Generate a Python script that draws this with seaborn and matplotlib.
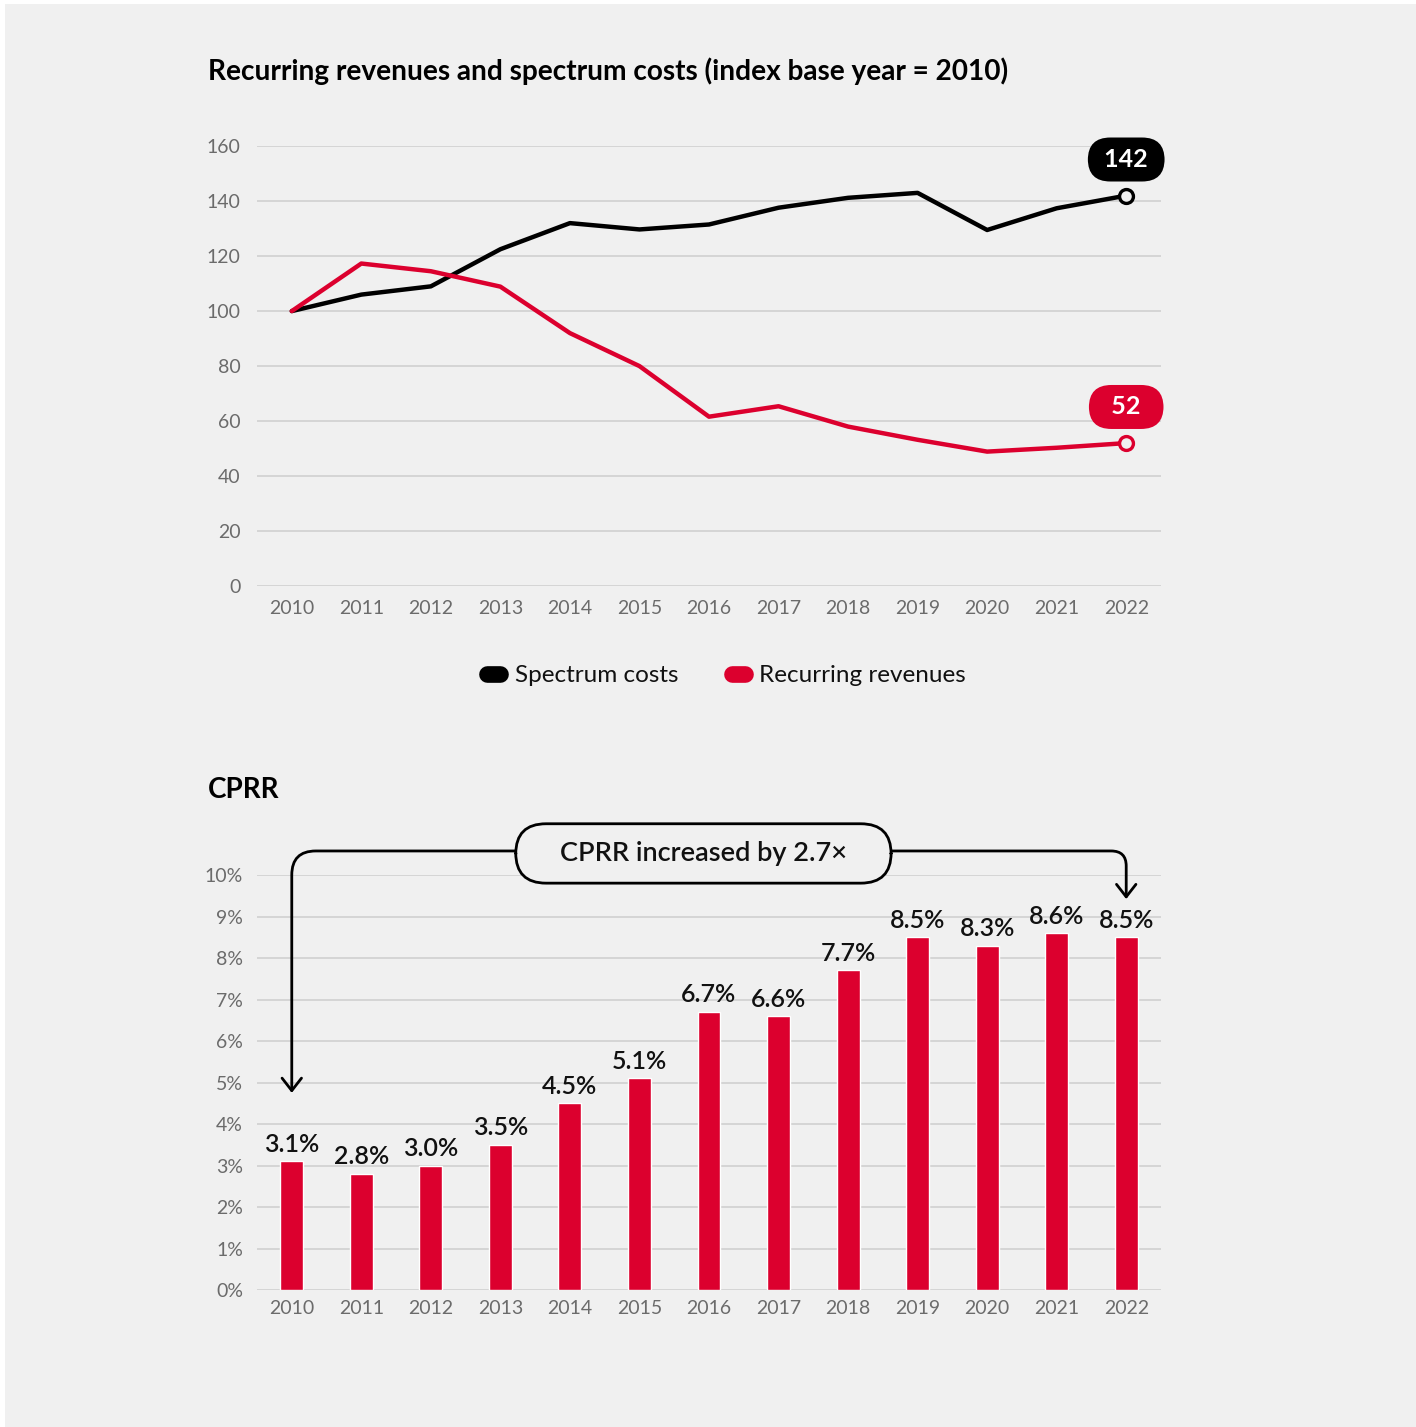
import numpy as np
import pandas as pd
import matplotlib
matplotlib.use("Agg")
import matplotlib.pyplot as plt
import seaborn as sns
from matplotlib.lines import Line2D
from matplotlib.patches import Rectangle

# data
years = [str(y) for y in range(2010, 2023)]
spectrum_costs = [100, 106, 109, 122.5, 132, 129.7, 131.5, 137.6, 141.2, 143, 129.5, 137.4, 142]
recurring_revenues = [100, 117.3, 114.5, 108.9, 92, 80, 61.6, 65.4, 58, 53.2, 48.9, 50.3, 52]
cprr = [3.1, 2.8, 3.0, 3.5, 4.5, 5.1, 6.7, 6.6, 7.7, 8.5, 8.3, 8.6, 8.5]
cprr_labels = [f"{v:.1f}%" for v in cprr]
index_ticks = [0, 20, 40, 60, 80, 100, 120, 140, 160]
pct_ticks = list(range(0, 11))

BG = "#f0f0f0"
RED = "#dc002e"
BLACK = "#000000"
GRID = "#d0d0d0"
TICK = "#6b6b6b"

sns.set_theme(style="whitegrid")
plt.rcParams["font.family"] = ["Lato", "DejaVu Sans"]
plt.rcParams["axes.facecolor"] = BG
plt.rcParams["figure.facecolor"] = BG

fig = plt.figure(figsize=(14.16, 14.27), dpi=100)
# thin white strip along top and left edge, as in the source image
fig.patches.append(Rectangle((0, 1 - 4 / 1427), 1, 4 / 1427, transform=fig.transFigure,
                             fc="white", ec="none", zorder=-1))
fig.patches.append(Rectangle((0, 0), 5 / 1416, 1, transform=fig.transFigure,
                             fc="white", ec="none", zorder=-1))

ax1 = fig.add_axes([0.1815, 0.5893, 0.6384, 0.3083])
ax2 = fig.add_axes([0.1815, 0.0960, 0.6384, 0.2908])

pos = np.arange(len(years))
df = pd.DataFrame({"pos": pos, "Spectrum costs": spectrum_costs,
                   "Recurring revenues": recurring_revenues})

# ---- top: index lines ----
sns.lineplot(data=df, x="pos", y="Spectrum costs", ax=ax1, color=BLACK, lw=3.2)
sns.lineplot(data=df, x="pos", y="Recurring revenues", ax=ax1, color=RED, lw=3.2)
for col, c in [("Spectrum costs", BLACK), ("Recurring revenues", RED)]:
    last = df[col].iloc[-1]
    lbl = f"{last:.0f}"
    lbl = " " + lbl + " " if len(lbl) == 3 else "  " + lbl + "  "
    ax1.plot(pos[-1], last, "o", ms=10, mfc=BG, mec=c, mew=2.4, zorder=5, clip_on=False)
    ax1.annotate(lbl, (pos[-1], last), xytext=(0, 26), textcoords="offset points",
                 ha="center", va="center", fontsize=18, fontweight="bold", color="white",
                 bbox=dict(boxstyle="round,pad=0.42,rounding_size=0.9", fc=c, ec="none"),
                 annotation_clip=False, zorder=6)

ax1.set_xlim(-0.5, 12.5)
ax1.set_ylim(0, 160)
ax1.set_yticks(index_ticks)
ax1.set_xticks(pos)
ax1.set_xticklabels(years)

# ---- bottom: CPRR bars ----
bdf = pd.DataFrame({"year": years, "cprr": cprr})
sns.barplot(data=bdf, x="year", y="cprr", ax=ax2, color=RED, width=0.33, saturation=1)
ax2.bar_label(ax2.containers[0], labels=cprr_labels, padding=4, fontsize=18,
              fontweight="semibold", color="#111111")
ax2.set_xlim(-0.5, 12.5)
ax2.set_ylim(0, 10)
ax2.set_yticks(pct_ticks)
ax2.set_yticklabels([f"{t}%" for t in pct_ticks])

for ax in (ax1, ax2):
    ax.set_xlabel("")
    ax.set_ylabel("")
    ax.grid(axis="y", color=GRID, lw=1.2)
    ax.grid(axis="x", visible=False)
    for s in ax.spines.values():
        s.set_visible(False)
    ax.tick_params(axis="both", length=0, labelsize=14, labelcolor=TICK)
ax1.tick_params(axis="y", pad=12)
ax2.tick_params(axis="y", pad=10)
ax1.tick_params(axis="x", pad=10)
ax2.tick_params(axis="x", pad=7)

# connectors for the CPRR callout
box_x, box_y = 5.92, 10.58
ax2.annotate("", xy=(0, 4.75), xytext=(box_x, box_y),
             arrowprops=dict(arrowstyle="->,head_length=0.9,head_width=0.7", color=BLACK, lw=2,
                             connectionstyle="angle,angleA=0,angleB=90,rad=24",
                             shrinkA=0, shrinkB=0, mutation_scale=10),
             annotation_clip=False)
ax2.annotate("", xy=(12, 9.42), xytext=(box_x, box_y),
             arrowprops=dict(arrowstyle="->,head_length=0.9,head_width=0.7", color=BLACK, lw=2,
                             connectionstyle="angle,angleA=0,angleB=90,rad=15",
                             shrinkA=0, shrinkB=0, mutation_scale=10),
             annotation_clip=False)
ax2.text(box_x, 10.52, "    CPRR increased by 2.7×    ", ha="center", va="center",
         fontsize=19.5, fontweight="semibold", color="#111111", zorder=10, clip_on=False,
         bbox=dict(boxstyle="round,pad=0.635,rounding_size=1.12", fc=BG, ec=BLACK, lw=2))

# titles
fig.text(0.1469, 0.9502, "Recurring revenues and spectrum costs (index base year = 2010)",
         fontsize=20.2, fontweight="bold", va="center", ha="left", color=BLACK)
fig.text(0.1469, 0.4464, "CPRR", fontsize=20, fontweight="bold", va="center", ha="left",
         color=BLACK)

# legend
handles = [Line2D([], [], color=BLACK, lw=12, solid_capstyle="round"),
           Line2D([], [], color=RED, lw=12, solid_capstyle="round")]
fig.legend(handles, ["Spectrum costs", "Recurring revenues"], loc="center",
           bbox_to_anchor=(0.513, 0.5265), ncol=2, frameon=False, fontsize=17.5,
           handlelength=0.55, handletextpad=0.59, columnspacing=2.2, labelcolor="#111111")

fig.savefig("out.png", dpi=100, facecolor=BG)
